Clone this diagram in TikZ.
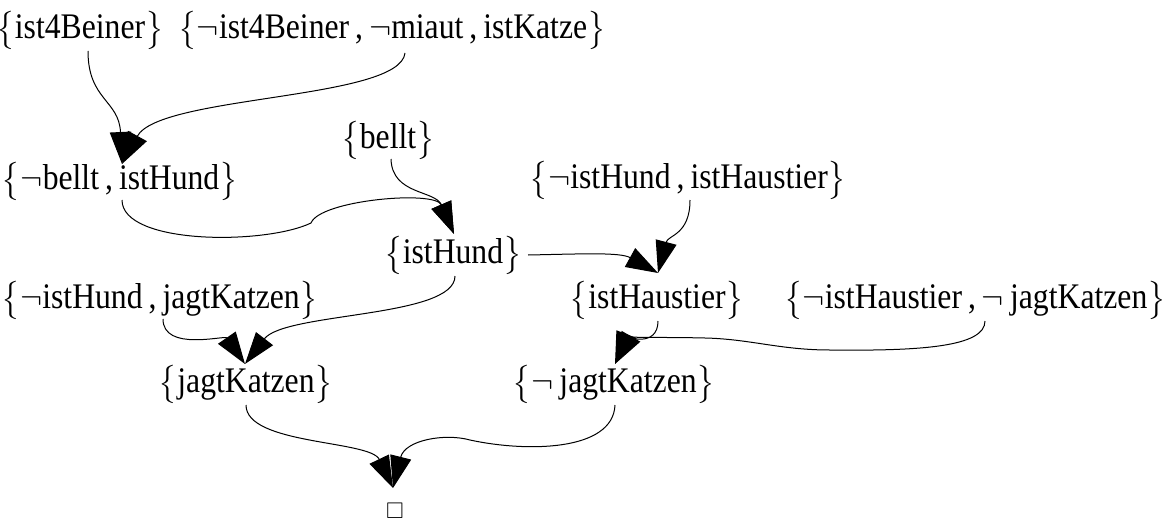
\documentclass[tikz,border=0pt]{standalone}
\usepackage{amsmath,amssymb}
\usepackage{fontspec}
\setmainfont{Liberation Serif}[FakeStretch=0.88]
\usetikzlibrary{arrows.meta,calc}
\newcommand\bracefont{\fontsize{24}{29}\selectfont}
\newcommand\clause[1]{{\bracefont$\big\{$}#1{\bracefont$\big\}$}}
\tikzset{
  clause/.style={font=\fontsize{27}{32}\selectfont, inner sep=0pt},
  edge/.style={-{Triangle[length=24pt,width=16pt]}, line width=0.75pt},
}
\begin{document}
\begin{tikzpicture}[x=0.75pt,y=-0.75pt]
\useasboundingbox (0,0) rectangle (1173,528);
\node[clause] (A) at (80,30) {\clause{ist4Beiner}};
\node[clause] (B) at (392,30) {\clause{$\neg$ist4Beiner\,,\,$\neg$miaut\,,\,istKatze}};
\node[clause] (D) at (388,140) {\clause{bellt}};
\node[clause] (C) at (120,181) {\clause{$\neg$bellt\,,\,istHund}};
\node[clause] (F) at (688,180) {\clause{$\neg$istHund\,,\,istHaustier}};
\node[clause] (E) at (453,255) {\clause{istHund}};
\node[clause] (G) at (160,300) {\clause{$\neg$istHund\,,\,jagtKatzen}};
\node[clause] (H) at (657,300) {\clause{istHaustier}};
\node[clause] (I) at (975,300) {\clause{$\neg$istHaustier\,,\,$\neg$\,jagtKatzen}};
\node[clause] (J) at (246,384) {\clause{jagtKatzen}};
\node[clause] (K) at (614,384) {\clause{$\neg$\,jagtKatzen}};
\node[inner sep=0pt, font=\fontsize{17}{17}\selectfont] (L) at (395,511) {$\square$};

% A -> C, B -> C
\draw[edge] ($(A)+(8,21)$) .. controls (88,100) and (119,100) .. ($(C)+(2,-17)$);
\draw[edge] ($(B)+(13,23)$) .. controls (400,100) and (160,95) .. ($(C)+(2,-17)$);
% C -> E, D -> E
\coordinate (ce) at (311,223);
\draw[edge] ($(C)+(2,19)$) .. controls (122,245) and (265,245) .. (ce)
  .. controls (320,200) and (435,190) .. ($(E)+(1,-21)$);
\draw[edge] ($(D)+(3,19)$) .. controls (392,195) and (435,190) .. ($(E)+(1,-21)$);
% E -> H, F -> H
\draw[edge] ($(E)+(75,0)$) .. controls (580,254) and (620,252) .. ($(H)+(1,-27)$);
\draw[edge] ($(F)+(2,20)$) .. controls (690,235) and (668,235) .. ($(H)+(1,-27)$);
% E -> J, G -> J
\draw[edge] ($(E)+(2,21)$) .. controls (455,318) and (285,312) .. ($(J)+(-1,-20)$);
\draw[edge] ($(G)+(3,19)$) .. controls (163,352) and (225,335) .. ($(J)+(-1,-20)$);
% H -> K, I -> K
\coordinate (ik1) at (830,350);
\coordinate (ik2) at (705,338);
\draw[edge] ($(H)+(1,21)$) .. controls (658,348) and (625,338) .. ($(K)+(1,-20)$);
\draw[edge] ($(I)+(10,21)$) .. controls (985,347) and (920,351) .. (ik1)
  .. controls (780,350) and (750,339) .. (ik2)
  .. controls (665,337) and (630,338) .. ($(K)+(1,-20)$);
% J -> L, K -> L
\coordinate (kl) at (470,440);
\draw[edge] ($(J)+(0,21)$) .. controls (246,445) and (370,440) .. ($(L)+(-2,-23)$);
\draw[edge] ($(K)+(1,21)$) .. controls (613,452) and (525,452) .. (kl)
  .. controls (445,433) and (405,440) .. ($(L)+(-2,-23)$);
\end{tikzpicture}
\end{document}
